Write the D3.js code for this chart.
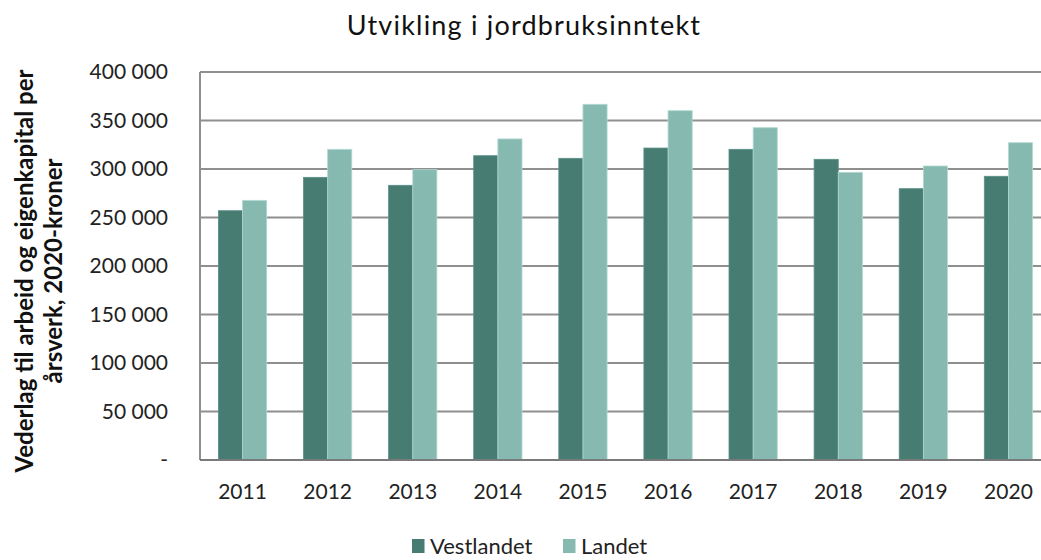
<!DOCTYPE html>
<html>
<head>
<meta charset="utf-8">
<script src="https://cdn.jsdelivr.net/npm/d3@7"></script>
<style>
  body { margin: 0; background: #fff; }
  svg { display: block; font-family: Lato, "Open Sans", sans-serif; }
  .grid line { stroke: #8f8f8f; stroke-width: 2; }
</style>
</head>
<body>
<div id="chart"></div>
<script>
// Utvikling i jordbruksinntekt, Vestlandet vs Landet
const years = ['2011', '2012', '2013', '2014', '2015', '2016', '2017', '2018', '2019', '2020'];
const seriesNames = ['Vestlandet', 'Landet'];
const vestlandet = [257000, 291400, 283200, 313700, 311000, 321600, 320300, 310000, 279700, 292500];
const landet = [267700, 320300, 299300, 331000, 366700, 360100, 342600, 296600, 303100, 327100];
const yTicks = [0, 50000, 100000, 150000, 200000, 250000, 300000, 350000, 400000];

const colors = { Vestlandet: '#467c72', Landet: '#86bab1' };

const W = 1041, H = 560;
const margin = { top: 72, right: -10, bottom: 100, left: 200 };
const innerW = W - margin.left - margin.right;
const innerH = H - margin.top - margin.bottom;

const svg = d3.select('#chart').append('svg')
    .attr('width', W)
    .attr('height', H);

const g = svg.append('g')
    .attr('transform', `translate(${margin.left},${margin.top})`);

const x = d3.scaleBand().domain(years).range([0, innerW]).paddingInner(0).paddingOuter(0);
const x1 = d3.scaleBand().domain(seriesNames).range([18.4, x.bandwidth() - 18.4]);
const y = d3.scaleLinear().domain([0, 400000]).range([innerH, 0]);

const fmt = v => v === 0 ? '-' : d3.format(',')(v).replace(/,/g, ' ');

// gridlines
g.append('g').attr('class', 'grid')
    .selectAll('line').data(yTicks.filter(t => t > 0)).join('line')
    .attr('x1', 0).attr('x2', innerW)
    .attr('y1', d => y(d)).attr('y2', d => y(d));

// left axis line
g.append('line')
    .attr('x1', 0).attr('x2', 0).attr('y1', 0).attr('y2', innerH)
    .attr('stroke', '#8f8f8f').attr('stroke-width', 2);

// y tick labels
const yAxis = d3.axisLeft(y).tickValues(yTicks).tickFormat(fmt).tickSize(0).tickPadding(32);
const ya = g.append('g').call(yAxis);
ya.select('.domain').remove();
ya.selectAll('text')
    .attr('font-family', 'Lato, sans-serif')
    .attr('font-size', 21)
    .attr('fill', '#222');

// bars
const rows = years.map((yr, i) => ({ year: yr, values: [
    { key: 'Vestlandet', value: vestlandet[i] },
    { key: 'Landet', value: landet[i] }
] }));

const groups = g.selectAll('.yr').data(rows).join('g')
    .attr('class', 'yr')
    .attr('transform', d => `translate(${x(d.year)},0)`);

groups.selectAll('rect').data(d => d.values).join('rect')
    .attr('x', d => x1(d.key))
    .attr('width', x1.bandwidth())
    .attr('y', d => y(d.value))
    .attr('height', d => innerH - y(d.value))
    .attr('fill', d => colors[d.key])
    .attr('stroke', d => d.key === 'Landet' ? '#b4dad3' : '#5a9087')
    .attr('stroke-width', 0.8);

// bottom axis
g.append('line')
    .attr('x1', 0).attr('x2', innerW).attr('y1', innerH).attr('y2', innerH)
    .attr('stroke', '#7a7a7a').attr('stroke-width', 2);

const xAxis = d3.axisBottom(x).tickSize(0).tickPadding(24);
const xa = g.append('g').attr('transform', `translate(0,${innerH})`).call(xAxis);
xa.select('.domain').remove();
xa.selectAll('text')
    .attr('font-family', 'Lato, sans-serif')
    .attr('font-size', 21)
    .attr('fill', '#222');

// title
svg.append('text')
    .attr('x', 524).attr('y', 35)
    .attr('text-anchor', 'middle')
    .attr('font-size', 27)
    .attr('letter-spacing', 1.2)
    .attr('fill', '#111')
    .text('Utvikling i jordbruksinntekt');

// y axis title
const yt = svg.append('text')
    .attr('transform', `translate(0,${margin.top + innerH / 2 + 5}) rotate(-90)`)
    .attr('text-anchor', 'middle')
    .attr('font-size', 24)
    .attr('font-weight', 'bold')
    .attr('fill', '#111');
yt.append('tspan').attr('x', 0).attr('y', 33).text('Vederlag til arbeid og eigenkapital per');
yt.append('tspan').attr('x', 0).attr('y', 62).text('årsverk, 2020-kroner');

// legend
const legendX = [412, 563];
const items = svg.append('g').selectAll('g').data(seriesNames).join('g')
    .attr('transform', (d, i) => `translate(${legendX[i]},546)`);
items.append('rect')
    .attr('x', 0).attr('y', -7)
    .attr('width', 12.5).attr('height', 14)
    .attr('fill', d => colors[d]);
items.append('text')
    .attr('x', 18).attr('y', 0).attr('dy', '0.35em')
    .attr('font-size', 22)
    .attr('fill', '#222')
    .text(d => d);
</script>
</body>
</html>
